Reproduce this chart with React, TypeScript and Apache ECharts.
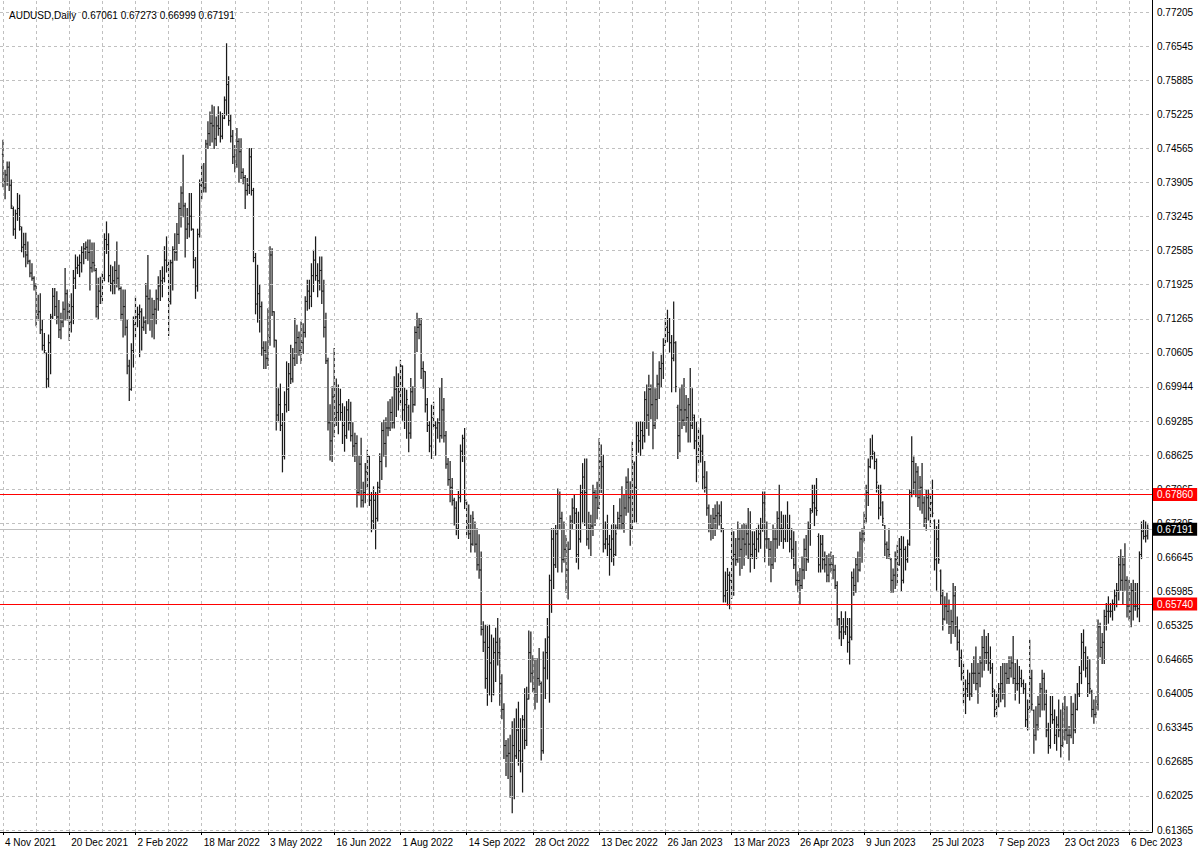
import React, { useEffect, useRef } from "react";
import * as echarts from "echarts";

// ---------- data (prices in pips: 7392 = 0.7392), rows are [open, high, low, close] ----------
const symbolLabel = "AUDUSD,Daily";

// 4 Nov 2021 .. 31 Dec 2021
const ohlc2021: number[][] = [
  [7445,7472,7382,7392],[7392,7414,7359,7405],[7405,7430,7385,7420],[7420,7430,7375,7385],[7385,7395,7340,7345],
  [7340,7343,7288,7300],[7300,7337,7282,7330],[7330,7369,7317,7340],[7340,7366,7298,7305],[7300,7304,7256,7265],
  [7265,7292,7246,7270],[7270,7292,7227,7250],[7250,7275,7233,7238],[7238,7240,7208,7215],[7215,7233,7201,7205],
  [7205,7208,7182,7190],[7190,7195,7113,7135],[7135,7172,7124,7140],[7140,7175,7098,7105],[7105,7124,7066,7075],
  [7075,7098,7059,7065],[7060,7060,6993,7010],[7010,7095,6995,7080],[7080,7135,7020,7130],[7130,7185,7127,7170],
  [7170,7185,7133,7150],[7150,7179,7117,7130],[7130,7162,7090,7105],[7105,7137,7088,7120],[7120,7159,7111,7145],
  [7145,7224,7124,7175],[7175,7182,7124,7140],[7140,7156,7085,7120],[7120,7175,7101,7150],[7150,7220,7117,7205],
  [7205,7250,7185,7225],[7225,7246,7214,7230],[7230,7250,7208,7235],[7235,7266,7217,7255],[7255,7272,7233,7262],
  [7262,7275,7243,7265],[7265,7279,7240,7255],
];

// 3 Jan 2022 .. 30 Dec 2022
const ohlc2022: number[][] = [
  [7255,7279,7182,7225],[7225,7273,7217,7235],[7235,7273,7219,7230],[7220,7224,7130,7150],[7150,7205,7127,7180],
  [7180,7207,7156,7170],[7170,7214,7156,7205],[7205,7291,7200,7280],[7280,7314,7253,7270],[7270,7291,7198,7210],
  [7210,7230,7180,7195],[7195,7227,7175,7200],[7200,7237,7175,7220],[7220,7275,7188,7205],[7205,7230,7182,7185],
  [7185,7188,7124,7135],[7135,7182,7091,7150],[7150,7182,7095,7110],[7110,7124,7020,7035],[7035,7046,6968,6990],
  [6990,7078,6988,7065],[7065,7130,7033,7115],[7115,7169,7091,7130],[7130,7149,7111,7135],[7135,7153,7053,7140],
  [7140,7146,7066,7110],[7110,7130,7104,7120],[7120,7195,7098,7170],[7170,7249,7117,7165],[7165,7182,7104,7125],
  [7125,7166,7091,7135],[7135,7162,7088,7145],[7145,7182,7117,7165],[7165,7208,7143,7190],[7190,7220,7162,7200],
  [7200,7227,7169,7205],[7205,7266,7198,7240],[7240,7285,7217,7230],[7230,7240,7094,7160],[7160,7240,7155,7235],
  [7235,7266,7182,7260],[7260,7291,7240,7255],[7255,7311,7240,7290],[7290,7350,7272,7340],[7340,7382,7304,7370],
  [7370,7443,7324,7345],[7345,7350,7246,7300],[7300,7340,7282,7310],[7310,7369,7285,7325],[7325,7369,7298,7300],
  [7300,7300,7225,7240],[7240,7245,7166,7190],[7190,7300,7180,7290],[7290,7395,7285,7385],[7385,7424,7359,7390],
  [7390,7427,7372,7380],[7380,7472,7372,7465],[7465,7508,7456,7485],[7485,7527,7462,7505],[7505,7540,7469,7500],
  [7500,7537,7456,7475],[7475,7517,7462,7500],[7500,7537,7482,7495],[7495,7527,7469,7480],[7480,7524,7475,7515],
  [7515,7556,7514,7550],[7550,7659,7521,7580],[7580,7595,7501,7510],[7510,7521,7469,7480],[7480,7491,7427,7440],
  [7440,7462,7411,7425],[7425,7495,7420,7470],[7470,7475,7391,7450],[7450,7475,7398,7410],[7410,7417,7388,7400],
  [7400,7404,7340,7375],[7375,7398,7366,7385],[7385,7456,7369,7440],[7440,7456,7366,7375],[7375,7379,7237,7245],
  [7245,7253,7136,7155],[7155,7230,7120,7175],[7175,7191,7101,7150],[7150,7159,7056,7070],[7070,7082,7030,7065],
  [7065,7082,7030,7050],[7050,7146,7036,7090],[7090,7266,7075,7250],[7250,7262,7133,7140],[7140,7140,7072,7085],
  [7085,7085,6911,6940],[6940,6991,6927,6960],[6960,7000,6910,6920],[6920,6943,6830,6860],[6860,6985,6855,6960],
  [6960,7043,6946,6990],[6990,7040,6949,7020],[7020,7075,7001,7010],[7010,7069,7004,7050],[7050,7127,7036,7080],
  [7080,7114,7040,7090],[7090,7101,7056,7065],[7065,7120,7040,7080],[7080,7117,7059,7100],[7100,7169,7091,7160],
  [7160,7201,7143,7180],[7180,7201,7146,7170],[7170,7233,7150,7210],[7210,7259,7179,7240],[7240,7285,7201,7210],
  [7210,7233,7169,7200],[7200,7246,7182,7220],[7220,7246,7156,7180],[7180,7201,7091,7110],[7110,7137,7040,7045],
  [7045,7050,6911,6925],[6925,6960,6853,6890],[6890,6995,6850,6975],[6975,7069,6898,6935],[6935,7010,6920,6945],
  [6945,6998,6904,6960],[6960,6990,6930,6945],[6945,6962,6885,6920],[6920,6956,6870,6900],[6900,6966,6895,6950],
  [6950,6970,6911,6925],[6925,6965,6890,6900],[6900,6925,6860,6880],[6880,6905,6850,6885],[6885,6900,6762,6790],
  [6790,6860,6785,6845],[6845,6895,6762,6775],[6775,6810,6762,6790],[6790,6846,6770,6830],[6830,6872,6800,6860],
  [6860,6860,6765,6775],[6775,6790,6714,6735],[6735,6801,6720,6775],[6775,6790,6681,6740],[6740,6810,6735,6800],
  [6800,6865,6790,6850],[6850,6925,6815,6910],[6910,6930,6860,6885],[6885,6935,6840,6915],[6915,6966,6900,6915],
  [6915,6970,6910,6945],[6945,6975,6915,6925],[6925,7014,6915,6990],[6990,7033,6937,6995],[6995,7020,6950,6985],
  [6985,7046,6960,7035],[7035,7035,6930,6950],[6950,6992,6914,6960],[6960,6988,6895,6970],[6955,6959,6869,6905],
  [6905,7011,6895,6985],[6985,6995,6946,6960],[6960,7111,6959,7100],[7100,7137,7063,7110],[7110,7127,7088,7115],
  [7115,7127,7011,7030],[7030,7043,6992,7025],[7024,7024,6946,6960],[6960,6972,6908,6920],[6920,6927,6869,6880],
  [6880,6959,6856,6935],[6935,6965,6915,6920],[6920,6927,6862,6915],[6915,6933,6895,6925],[6925,6992,6888,6900],
  [6900,7011,6895,6950],[6950,6972,6888,6900],[6900,6908,6837,6845],[6845,6856,6804,6815],[6815,6850,6772,6800],
  [6800,6817,6766,6775],[6775,6779,6727,6760],[6760,6772,6708,6720],[6720,6792,6701,6780],[6780,6882,6772,6870],
  [6870,6901,6850,6895],[6895,6914,6759,6775],[6770,6772,6708,6730],[6730,6766,6701,6710],[6710,6746,6675,6690],
  [6690,6753,6688,6740],[6730,6733,6675,6690],[6690,6720,6640,6650],[6650,6708,6624,6640],[6640,6675,6514,6525],
  [6525,6540,6482,6500],[6500,6533,6411,6430],[6430,6533,6378,6490],[6490,6533,6398,6460],[6460,6514,6385,6400],
  [6400,6508,6398,6480],[6480,6527,6424,6500],[6500,6546,6456,6480],[6480,6508,6378,6420],[6420,6437,6352,6370],
  [6370,6381,6275,6300],[6300,6310,6242,6280],[6280,6313,6236,6285],[6285,6320,6200,6240],[6240,6346,6170,6300],
  [6300,6352,6197,6280],[6280,6371,6275,6330],[6330,6384,6262,6290],[6290,6352,6249,6270],[6270,6358,6210,6350],
  [6350,6410,6294,6310],[6310,6413,6300,6390],[6390,6522,6390,6480],[6480,6520,6423,6440],[6440,6474,6404,6410],
  [6410,6468,6371,6400],[6400,6468,6384,6430],[6430,6488,6417,6425],[6420,6423,6272,6290],[6290,6481,6285,6450],
  [6450,6507,6391,6480],[6480,6546,6429,6510],[6510,6630,6384,6620],[6620,6720,6558,6700],[6700,6720,6604,6650],
  [6650,6726,6645,6710],[6710,6797,6636,6730],[6730,6791,6720,6740],[6740,6752,6636,6660],[6660,6733,6655,6680],
  [6680,6707,6597,6640],[6640,6694,6584,6680],[6680,6745,6680,6735],[6735,6778,6720,6760],[6760,6784,6730,6750],
  [6750,6759,6655,6670],[6670,6752,6642,6700],[6700,6804,6694,6790],[6790,6846,6733,6820],[6820,6855,6726,6790],
  [6790,6855,6688,6700],[6700,6752,6681,6720],[6720,6746,6668,6725],[6725,6804,6707,6790],[6790,6797,6726,6780],
  [6780,6810,6739,6760],[6760,6894,6759,6850],[6850,6882,6790,6840],[6840,6862,6675,6690],[6690,6733,6681,6700],
  [6700,6746,6668,6690],[6690,6707,6630,6680],[6680,6727,6656,6700],[6700,6765,6649,6670],[6670,6727,6668,6710],
  [6722,6752,6720,6740],[6740,6778,6720,6745],[6745,6801,6720,6730],[6730,6785,6713,6760],[6760,6820,6746,6810],
];

// 2 Jan 2023 .. 19 Dec 2023
const ohlc2023: number[][] = [
  [6810,6836,6752,6780],[6780,6811,6688,6720],[6720,6888,6720,6860],[6845,6849,6733,6800],[6800,6927,6733,6900],
  [6900,6927,6868,6890],[6890,6927,6862,6910],[6910,6927,6875,6900],[6900,6985,6888,6970],[6970,6998,6914,6940],
  [6940,7017,6901,6990],[6990,6998,6933,6960],[6960,7062,6875,6920],[6920,6991,6914,6970],[6970,7017,6933,7000],
  [7000,7043,6972,7030],[7030,7056,6994,7040],[7040,7088,7011,7075],[7075,7127,7075,7110],[7110,7143,7082,7100],
  [7100,7127,7062,7080],[7080,7094,6985,7050],[7050,7159,7045,7080],[7080,7082,6985,6995],[6955,6959,6856,6900],
  [6900,6991,6869,6950],[6950,6998,6914,6930],[6930,7011,6920,6950],[6950,6978,6907,6935],[6935,6972,6888,6960],
  [6960,7030,6888,6920],[6920,6991,6914,6940],[6935,6940,6875,6890],[6890,6927,6811,6860],[6860,6914,6843,6880],
  [6880,6933,6849,6870],[6870,6901,6798,6820],[6820,6850,6791,6800],[6800,6830,6746,6760],[6760,6766,6714,6730],
  [6730,6746,6698,6720],[6720,6759,6701,6740],[6740,6766,6707,6745],[6745,6772,6720,6750],[6750,6766,6727,6745],
  [6745,6772,6714,6720],[6720,6720,6578,6590],[6590,6636,6578,6600],[6600,6643,6572,6630],[6630,6636,6565,6620],
  [6620,6720,6585,6660],[6660,6714,6591,6670],[6670,6701,6649,6660],[6660,6733,6655,6700],[6700,6720,6630,6680],
  [6680,6727,6643,6700],[6700,6730,6649,6690],[6690,6727,6669,6710],[6710,6759,6662,6690],[6690,6753,6636,6670],
  [6670,6714,6662,6690],[6690,6714,6643,6680],[6680,6720,6662,6700],[6700,6727,6675,6710],[6710,6740,6682,6720],
  [6720,6791,6715,6770],[6770,6791,6656,6700],[6700,6733,6682,6700],[6700,6701,6649,6680],[6680,6695,6617,6650],
  [6650,6727,6643,6700],[6700,6720,6656,6700],[6700,6753,6682,6740],[6740,6804,6688,6720],[6720,6753,6695,6720],
  [6720,6746,6682,6700],[6700,6746,6695,6730],[6730,6772,6695,6720],[6720,6746,6675,6700],[6700,6720,6662,6680],
  [6680,6714,6643,6650],[6650,6695,6611,6620],[6620,6636,6598,6620],[6620,6643,6575,6610],[6610,6665,6604,6640],
  [6640,6700,6623,6680],[6680,6707,6639,6660],[6660,6733,6655,6720],[6720,6759,6688,6750],[6755,6804,6752,6770],
  [6770,6804,6726,6760],[6760,6817,6746,6755],[6705,6710,6636,6650],[6650,6707,6636,6690],[6690,6707,6642,6660],
  [6660,6675,6636,6650],[6650,6668,6617,6630],[6630,6671,6617,6650],[6650,6675,6636,6650],[6650,6668,6623,6640],
  [6640,6649,6604,6610],[6610,6617,6533,6545],[6545,6546,6507,6520],[6520,6559,6494,6530],[6530,6546,6507,6520],
  [6520,6559,6515,6530],[6530,6546,6481,6500],[6500,6546,6458,6510],[6510,6636,6505,6625],[6625,6642,6591,6610],
  [6610,6662,6597,6650],[6650,6675,6617,6640],[6640,6713,6638,6700],[6700,6720,6655,6710],[6710,6752,6694,6740],
  [6740,6804,6733,6790],[6790,6855,6765,6840],[6840,6894,6838,6860],[6860,6901,6855,6870],[6865,6868,6836,6850],
  [6850,6855,6791,6810],[6800,6804,6739,6760],[6760,6804,6746,6790],[6770,6772,6726,6740],[6726,6726,6668,6690],
  [6690,6694,6662,6680],[6680,6720,6662,6670],[6660,6662,6597,6620],[6620,6642,6597,6630],[6630,6675,6604,6660],
  [6660,6688,6610,6640],[6650,6701,6649,6680],[6680,6705,6600,6620],[6620,6704,6615,6680],[6680,6685,6640,6660],
  [6660,6698,6655,6690],[6690,6795,6688,6790],[6790,6898,6782,6850],[6850,6859,6788,6810],[6810,6846,6782,6830],
  [6830,6840,6763,6780],[6780,6821,6756,6800],[6800,6846,6750,6770],[6770,6782,6724,6740],[6740,6795,6717,6780],
  [6780,6795,6737,6760],[6760,6788,6724,6770],[6770,6814,6743,6750],[6735,6737,6640,6660],[6660,6724,6601,6700],
  [6700,6737,6653,6660],[6638,6640,6575,6590],[6590,6601,6524,6545],[6545,6588,6543,6570],[6570,6595,6537,6560],
  [6560,6582,6517,6530],[6530,6562,6498,6540],[6540,6614,6517,6590],[6590,6608,6511,6530],[6530,6549,6485,6500],
  [6500,6524,6453,6470],[6470,6485,6427,6440],[6440,6459,6382,6400],[6400,6427,6362,6410],[6410,6446,6395,6420],
  [6420,6440,6388,6400],[6400,6459,6395,6440],[6440,6472,6420,6440],[6440,6491,6408,6420],[6420,6459,6382,6440],
  [6440,6472,6414,6460],[6460,6511,6433,6490],[6490,6524,6446,6480],[6480,6511,6459,6480],[6480,6517,6446,6460],
  [6460,6491,6440,6450],[6450,6459,6395,6410],[6405,6408,6356,6370],[6370,6401,6356,6390],[6390,6420,6375,6410],
  [6410,6453,6385,6420],[6420,6459,6390,6400],[6400,6459,6375,6440],[6440,6459,6420,6430],[6430,6472,6420,6450],
  [6450,6472,6433,6460],[6460,6511,6420,6430],[6430,6459,6388,6420],[6420,6466,6407,6420],[6420,6453,6382,6430],
  [6430,6446,6414,6420],[6420,6427,6401,6410],[6410,6420,6337,6350],[6350,6388,6330,6370],[6370,6504,6365,6430],
  [6430,6446,6369,6380],[6368,6369,6285,6320],[6320,6375,6311,6340],[6340,6395,6330,6380],[6380,6420,6356,6410],
  [6410,6446,6369,6430],[6430,6440,6369,6380],[6380,6407,6317,6330],[6330,6343,6285,6300],[6300,6395,6295,6360],
  [6360,6395,6343,6350],[6350,6369,6304,6320],[6320,6356,6291,6340],[6340,6388,6317,6330],[6330,6369,6278,6300],
  [6300,6382,6298,6370],[6370,6395,6311,6330],[6330,6375,6304,6320],[6320,6337,6272,6320],[6320,6395,6315,6360],
  [6360,6382,6304,6330],[6330,6401,6325,6370],[6370,6420,6369,6400],[6400,6453,6395,6440],[6440,6517,6420,6500],
  [6500,6524,6446,6480],[6480,6491,6433,6450],[6450,6472,6395,6420],[6420,6466,6401,6410],[6405,6407,6356,6370],
  [6370,6388,6343,6360],[6360,6395,6355,6380],[6380,6543,6369,6530],[6530,6537,6472,6490],[6490,6517,6459,6500],
  [6500,6562,6459,6550],[6550,6575,6524,6560],[6560,6588,6537,6560],[6560,6575,6549,6560],[6560,6582,6543,6575],
  [6575,6601,6562,6590],[6590,6614,6569,6600],[6600,6666,6582,6650],[6650,6679,6601,6620],[6620,6666,6575,6650],
  [6650,6691,6601,6620],[6620,6627,6549,6570],[6570,6620,6543,6560],[6560,6614,6530,6600],[6600,6620,6543,6570],
  [6570,6614,6562,6570],[6570,6614,6549,6565],[6565,6675,6540,6670],[6670,6733,6662,6715],[6715,6736,6700,6705],
  [6705,6733,6694,6706],[6706.1,6727.3,6699.9,6719.1],
];

const dateLabels = [
  "4 Nov 2021","20 Dec 2021","2 Feb 2022","18 Mar 2022","3 May 2022","16 Jun 2022",
  "1 Aug 2022","14 Sep 2022","28 Oct 2022","13 Dec 2022","26 Jan 2023","13 Mar 2023",
  "26 Apr 2023","9 Jun 2023","25 Jul 2023","7 Sep 2023","23 Oct 2023","6 Dec 2023",
];
const barsPerDateLabel = 32;
const barsPerGridLine = 16;

const priceLabels = [
  "0.77205","0.76545","0.75885","0.75225","0.74565","0.73905","0.73245","0.72585","0.71925",
  "0.71265","0.70605","0.69944","0.69285","0.68625","0.67965","0.67305","0.66645","0.65985",
  "0.65325","0.64665","0.64005","0.63345","0.62685","0.62025","0.61365",
];
const levelPrices = [0.6786, 0.6574];
const bidPrice = 0.67191;

// ---------- layout ----------
const W = 1200;
const H = 854;
const PLOT_RIGHT = 1152;
const PLOT_BOTTOM = 832;
const FIRST_BAR_X = 3;
const BAR_STEP = 2.07;
const TOP_LABEL_Y = 12;
const BOTTOM_LABEL_Y = 830;
const FONT = "Liberation Sans";
const BAR_COLOR = "#1a1a1a";

export default function App() {
  const ref = useRef<HTMLDivElement>(null);

  useEffect(() => {
    document.body.style.margin = "0";
    if (!ref.current) return;
    const chart = echarts.init(ref.current, null, { renderer: "svg" });

    const rows = [...ohlc2021, ...ohlc2022, ...ohlc2023];
    const bars = rows.map((r, i) => [i, r[0] / 10000, r[1] / 10000, r[2] / 10000, r[3] / 10000]);
    const last = bars[bars.length - 1];
    const header = `${symbolLabel}  ${last[1].toFixed(5)} ${last[2].toFixed(5)} ${last[3].toFixed(5)} ${last[4].toFixed(5)}`;

    const priceValues = priceLabels.map(Number);
    const topPrice = priceValues[0];
    const bottomPrice = priceValues[priceValues.length - 1];
    const pxPerUnit = (BOTTOM_LABEL_Y - TOP_LABEL_Y) / (topPrice - bottomPrice);
    const yMax = topPrice + TOP_LABEL_Y / pxPerUnit;
    const yMin = bottomPrice - (PLOT_BOTTOM - BOTTOM_LABEL_Y) / pxPerUnit;
    const xMin = -FIRST_BAR_X / BAR_STEP;
    const xMax = (PLOT_RIGHT - FIRST_BAR_X) / BAR_STEP;

    const dateIdx = dateLabels.map((_, k) => k * barsPerDateLabel);
    const gridIdx: number[] = [];
    for (let i = 0; i <= xMax; i += barsPerGridLine) gridIdx.push(i);

    const renderItem = (params: any, api: any) => {
      const i = api.value(0);
      const pH = api.coord([i, api.value(2)]);
      const pL = api.coord([i, api.value(3)]);
      const yO = api.coord([i, api.value(1)])[1];
      const yC = api.coord([i, api.value(4)])[1];
      const x = pH[0];
      const style = { stroke: BAR_COLOR, lineWidth: 1.25 };
      const tick = { stroke: BAR_COLOR, lineWidth: 1 };
      return {
        type: "group",
        children: [
          { type: "line", shape: { x1: x, y1: pH[1] - 0.5, x2: x, y2: pL[1] + 0.5 }, style },
          { type: "line", shape: { x1: x - 1.2, y1: yO, x2: x, y2: yO }, style: tick },
          { type: "line", shape: { x1: x, y1: yC, x2: x + 1.2, y2: yC }, style: tick },
        ],
      };
    };

    const boxLabel = (text: string, bg: string) => ({
      show: true,
      position: "end",
      formatter: text,
      color: "#ffffff",
      backgroundColor: bg,
      padding: [2, 4, 1, 4],
      distance: 1,
      fontSize: 10,
      fontFamily: FONT,
    });

    chart.setOption({
      animation: false,
      backgroundColor: "#ffffff",
      textStyle: { fontFamily: FONT },
      title: {
        text: header,
        left: 4,
        top: 5,
        textStyle: { fontSize: 10, fontWeight: "normal", color: "#000", fontFamily: FONT },
      },
      grid: { left: 0, top: 0, right: W - PLOT_RIGHT, bottom: H - PLOT_BOTTOM, containLabel: false },
      xAxis: {
        type: "value",
        min: xMin,
        max: xMax,
        axisLine: { show: true, onZero: false, lineStyle: { color: "#000", width: 1 } },
        axisTick: { show: true, customValues: dateIdx, length: 3, lineStyle: { color: "#000" } },
        axisLabel: {
          customValues: dateIdx,
          formatter: (v: number) => dateLabels[Math.round(v / barsPerDateLabel)] ?? "",
          align: "left",
          margin: 5,
          padding: [0, 0, 0, 2],
          fontSize: 10,
          color: "#000",
          fontFamily: FONT,
        },
        splitLine: { show: false },
      },
      yAxis: {
        type: "value",
        position: "right",
        min: yMin,
        max: yMax,
        axisLine: { show: true, onZero: false, lineStyle: { color: "#000", width: 1 } },
        axisTick: { show: false },
        axisLabel: {
          customValues: priceValues,
          formatter: (v: number) => {
            const k = priceValues.findIndex((p) => Math.abs(p - v) < 1e-7);
            return k >= 0 ? priceLabels[k] : "";
          },
          margin: 5,
          fontSize: 10,
          color: "#000",
          fontFamily: FONT,
        },
        splitLine: { show: false },
      },
      series: [
        {
          type: "line",
          data: [],
          z: 1,
          silent: true,
          markLine: {
            silent: true,
            precision: 8,
            symbol: ["none", "none"],
            animation: false,
            label: { show: false },
            lineStyle: { color: "#c0c0c0", type: [3, 3], width: 1 },
            data: [
              ...priceValues.map((v) => ({ yAxis: v })),
              ...gridIdx.map((i) => ({ xAxis: i })),
            ],
          },
        },
        {
          type: "custom",
          z: 2,
          silent: true,
          data: bars,
          encode: { x: 0, y: [1, 2, 3, 4] },
          renderItem,
        },
        {
          type: "line",
          data: [],
          z: 3,
          silent: true,
          markLine: {
            silent: true,
            precision: 8,
            symbol: ["none", "none"],
            animation: false,
            data: [
              ...levelPrices.map((v) => ({
                yAxis: v,
                lineStyle: { color: "#ff0000", type: "solid", width: 1 },
                label: boxLabel(v.toFixed(5), "#ff0000"),
              })),
              {
                yAxis: bidPrice,
                lineStyle: { color: "#c0c0c0", type: "solid", width: 1 },
                label: boxLabel(bidPrice.toFixed(5), "#000000"),
              },
            ],
          },
        },
      ],
    });

    return () => chart.dispose();
  }, []);

  return (
    <div
      ref={ref}
      style={{ position: "fixed", left: 0, top: 0, width: W, height: H, background: "#fff" }}
    />
  );
}
